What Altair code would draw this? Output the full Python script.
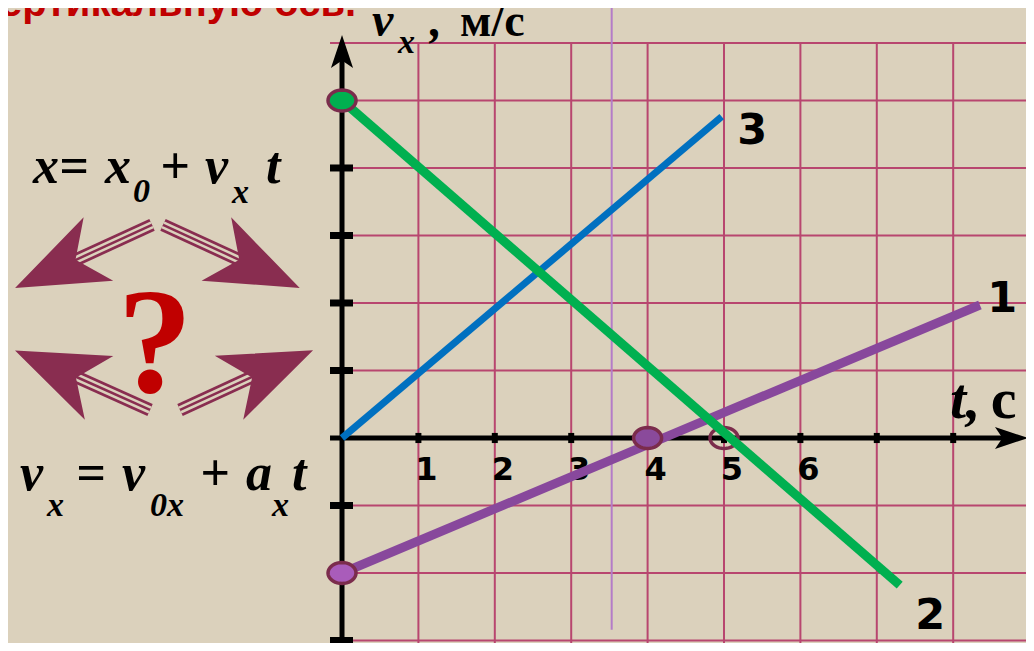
import math
import altair as alt
import pandas as pd

# ---------------- data ----------------
# graphs of v_x(t)
line1_t = [0.0, 8.35]
line1_v = [-2.0, 1.97]
line2_t = [0.0, 7.30]
line2_v = [5.0, -2.18]
line3_t = [0.0, 4.97]
line3_v = [0.0, 4.76]

# marked points
dot_t = [0, 0, 4]
dot_v = [5, -2, 0]
dot_fill = ["#00b050", "#a95cba", "#8a4a9b"]
ring_t = [5]
ring_v = [0]

# grid / ticks
grid_t = [1, 2, 3, 4, 5, 6, 7, 8, 9]
grid_v = [-3, -2, -1, 1, 2, 3, 4, 5, 5.85]
xtick_t = [1, 2, 3, 4, 5, 6, 7, 8]
ytick_v = [-3, -2, -1, 1, 2, 3, 4, 5]
xlabel_t = [1, 2, 3, 4, 5, 6]
xlabel_text = ["1", "2", "3", "4", "5", "6"]
marker_t = [3.53]

# graph numbers
num_text = ["1", "2", "3"]
num_t = [8.64, 7.70, 5.37]
num_v = [2.06, -2.64, 4.55]

# formula pieces (bold italic serif)
f_text = ["x=", "x", "+", "v", "t", "v", "=", "v", "+", "a", "t", "v", ",", "t,"]
f_t = [-4.045, -3.102, -2.382, -1.793, -0.995, -4.215, -3.482, -2.880, -1.859,
       -1.257, -0.654, 0.393, 1.152, 7.958]
f_v = [3.778] * 5 + [-0.770] * 6 + [5.96, 5.96, 0.296]
f_size = [52] * 11 + [48, 48, 58]
# subscripts
s_text = ["0", "x", "x", "0x", "x", "x"]
s_t = [-2.736, -1.440, -3.861, -2.513, -0.916, 0.733]
s_v = [3.49, 3.48, -1.156, -1.156, -1.156, 5.704]
# upright units
u_text = ["м/с", "c"]
u_t = [1.545, 8.49]
u_v = [5.96, 0.296]
u_size = [46, 58]

# decorative arrows around the question mark
shaft_t = [-2.487, -2.343, -2.513, -2.120]
shaft_v = [3.156, 3.156, 0.415, 0.415]
shaft_t2 = [-3.547, -1.283, -3.534, -1.126]
shaft_v2 = [2.607, 2.607, 0.933, 0.933]
head_t = [-3.734, -1.099, -3.730, -0.929]
head_v = [2.511, 2.511, 1.019, 1.022]
head_angle = [245, 115, 294, 66]

# ---------------- scales ----------------
T_MIN, T_MAX = -4.372, 8.953
V_MIN, V_MAX = -3.037, 6.370
W, H = 1018, 635

BG = "#dbd1bc"
GRID = "#b8466f"
MAROON = "#892d50"

xs = alt.Scale(domain=[T_MIN, T_MAX], nice=False, zero=False)
ys = alt.Scale(domain=[V_MIN, V_MAX], nice=False, zero=False)


def X(f="t"):
    return alt.X(f"{f}:Q", scale=xs, axis=None)


def Y(f="v"):
    return alt.Y(f"{f}:Q", scale=ys, axis=None)


layers = []

# grid
hgrid = pd.DataFrame({"v": grid_v, "t": [-0.157] * len(grid_v), "t2": [9.0] * len(grid_v)})
layers.append(alt.Chart(hgrid).mark_rule(color=GRID, strokeWidth=2).encode(
    x=X(), x2=alt.X2("t2:Q"), y=Y()))
vgrid = pd.DataFrame({"t": grid_t, "v": [5.85] * len(grid_t), "v2": [V_MIN - 0.2] * len(grid_t)})
layers.append(alt.Chart(vgrid).mark_rule(color=GRID, strokeWidth=2).encode(
    x=X(), y=Y(), y2=alt.Y2("v2:Q")))
mk = pd.DataFrame({"t": marker_t, "v": [V_MAX + 0.2], "v2": [-2.84]})
layers.append(alt.Chart(mk).mark_rule(color="#b47cc8", strokeWidth=2).encode(
    x=X(), y=Y(), y2=alt.Y2("v2:Q")))

# axes
yax = pd.DataFrame({"t": [0], "v": [V_MIN - 0.2], "v2": [5.8]})
layers.append(alt.Chart(yax).mark_rule(color="black", strokeWidth=5).encode(
    x=X(), y=Y(), y2=alt.Y2("v2:Q")))
xax = pd.DataFrame({"t": [-0.157], "t2": [8.7], "v": [0]})
layers.append(alt.Chart(xax).mark_rule(color="black", strokeWidth=5).encode(
    x=X(), x2=alt.X2("t2:Q"), y=Y()))
yt = pd.DataFrame({"v": ytick_v, "t": [-0.157] * len(ytick_v), "t2": [0.144] * len(ytick_v)})
layers.append(alt.Chart(yt).mark_rule(color="black", strokeWidth=7).encode(
    x=X(), x2=alt.X2("t2:Q"), y=Y()))
xt = pd.DataFrame({"t": xtick_t, "v": [0.075] * len(xtick_t), "v2": [-0.075] * len(xtick_t)})
layers.append(alt.Chart(xt).mark_rule(color="black", strokeWidth=6).encode(
    x=X(), y=Y(), y2=alt.Y2("v2:Q")))

AXIS_HEAD = "M 0 -1 L 0.67 1 L 0 0.55 L -0.67 1 Z"
ah = pd.DataFrame({"t": [0, 8.763], "v": [5.726, 0], "angle": [0, 90]})
layers.append(alt.Chart(ah).mark_point(shape=AXIS_HEAD, size=1089, filled=True, color="black",
                                       opacity=1, strokeWidth=0).encode(
    x=X(), y=Y(), angle=alt.Angle("angle:Q", scale=None)))

# tick labels
xl = pd.DataFrame({"t": xlabel_t, "v": [-0.47] * len(xlabel_t), "text": xlabel_text})
layers.append(alt.Chart(xl).mark_text(font="DejaVu Sans", fontWeight="bold", fontSize=32, dx=8,
                                      align="center", baseline="middle", color="black").encode(
    x=X(), y=Y(), text="text:N"))

# hollow ring at (5, 0)
ELL = "M " + " L ".join(
    f"{math.cos(2 * math.pi * k / 36):.3f} {0.75 * math.sin(2 * math.pi * k / 36):.3f}"
    for k in range(36)) + " Z"
rg = pd.DataFrame({"t": ring_t, "v": ring_v})
layers.append(alt.Chart(rg).mark_point(shape=ELL, size=784, filled=False, stroke="#7b2c4c",
                                       strokeWidth=3.5, opacity=1).encode(x=X(), y=Y()))

# graphs
l3 = pd.DataFrame({"t": line3_t, "v": line3_v})
layers.append(alt.Chart(l3).mark_line(color="#0070c0", strokeWidth=7).encode(x=X(), y=Y()))
l1 = pd.DataFrame({"t": line1_t, "v": line1_v})
layers.append(alt.Chart(l1).mark_line(color="#88489c", strokeWidth=9).encode(x=X(), y=Y()))
l2 = pd.DataFrame({"t": line2_t, "v": line2_v})
layers.append(alt.Chart(l2).mark_line(color="#00b050", strokeWidth=9).encode(x=X(), y=Y()))

dots = pd.DataFrame({"t": dot_t, "v": dot_v, "fill": dot_fill})
layers.append(alt.Chart(dots).mark_point(shape=ELL, size=784, filled=True, stroke="#7b2c4c",
                                         strokeWidth=3.5, opacity=1).encode(
    x=X(), y=Y(), fill=alt.Fill("fill:N", scale=None)))

# graph numbers
nm = pd.DataFrame({"t": num_t, "v": num_v, "text": num_text})
layers.append(alt.Chart(nm).mark_text(font="DejaVu Sans", fontWeight="bold", fontSize=43,
                                      align="center", baseline="middle", color="black").encode(
    x=X(), y=Y(), text="text:N"))

# formulas and axis labels
ft = pd.DataFrame({"t": f_t, "v": f_v, "text": f_text, "size": f_size})
layers.append(alt.Chart(ft).mark_text(font="Liberation Serif", fontWeight="bold", fontStyle="italic",
                                      align="left", baseline="alphabetic", color="black").encode(
    x=X(), y=Y(), text="text:N", size=alt.Size("size:Q", scale=None)))
st = pd.DataFrame({"t": s_t, "v": s_v, "text": s_text})
layers.append(alt.Chart(st).mark_text(font="Liberation Serif", fontWeight="bold", fontStyle="italic",
                                      fontSize=34, align="left", baseline="alphabetic",
                                      color="black").encode(x=X(), y=Y(), text="text:N"))
ut = pd.DataFrame({"t": u_t, "v": u_v, "text": u_text, "size": u_size})
layers.append(alt.Chart(ut).mark_text(font="Liberation Serif", fontWeight="bold",
                                      align="left", baseline="alphabetic", color="black").encode(
    x=X(), y=Y(), text="text:N", size=alt.Size("size:Q", scale=None)))

# decorative arrows
sh = pd.DataFrame({"t": shaft_t, "v": shaft_v, "t2": shaft_t2, "v2": shaft_v2})
for wdt, col in [(13, MAROON), (7.5, BG), (2.5, MAROON)]:
    layers.append(alt.Chart(sh).mark_rule(color=col, strokeWidth=wdt, strokeCap="butt").encode(
        x=X(), y=Y(), x2=alt.X2("t2:Q"), y2=alt.Y2("v2:Q")))
DECOR_HEAD = "M 0 -1 L 0.76 1 L 0 0.45 L -0.76 1 Z"
hd = pd.DataFrame({"t": head_t, "v": head_v, "angle": head_angle})
layers.append(alt.Chart(hd).mark_point(shape=DECOR_HEAD, size=8464, filled=True, color=MAROON,
                                       opacity=1, strokeWidth=0).encode(
    x=X(), y=Y(), angle=alt.Angle("angle:Q", scale=None)))

# red question mark and cropped heading
qm = pd.DataFrame({"t": [-2.448], "v": [0.681], "text": ["?"]})
layers.append(alt.Chart(qm).mark_text(font="Liberation Serif", fontWeight="bold", fontSize=150,
                                      align="center", baseline="alphabetic", color="#c00000").encode(
    x=X(), y=Y(), text="text:N"))
hdg = pd.DataFrame({"t": [-4.476], "v": [6.25], "text": ["ертикальную ось."]})
layers.append(alt.Chart(hdg).mark_text(font="Liberation Sans", fontWeight="bold", fontSize=40,
                                       align="left", baseline="alphabetic", color="#c00000").encode(
    x=X(), y=Y(), text="text:N"))

chart = alt.layer(*layers).properties(
    width=W, height=H, padding=0, background=BG,
    autosize=alt.AutoSizeParams(type="none"),
).configure_view(stroke=None)

chart.save("out.html", embed_options={"renderer": "svg", "actions": False})
